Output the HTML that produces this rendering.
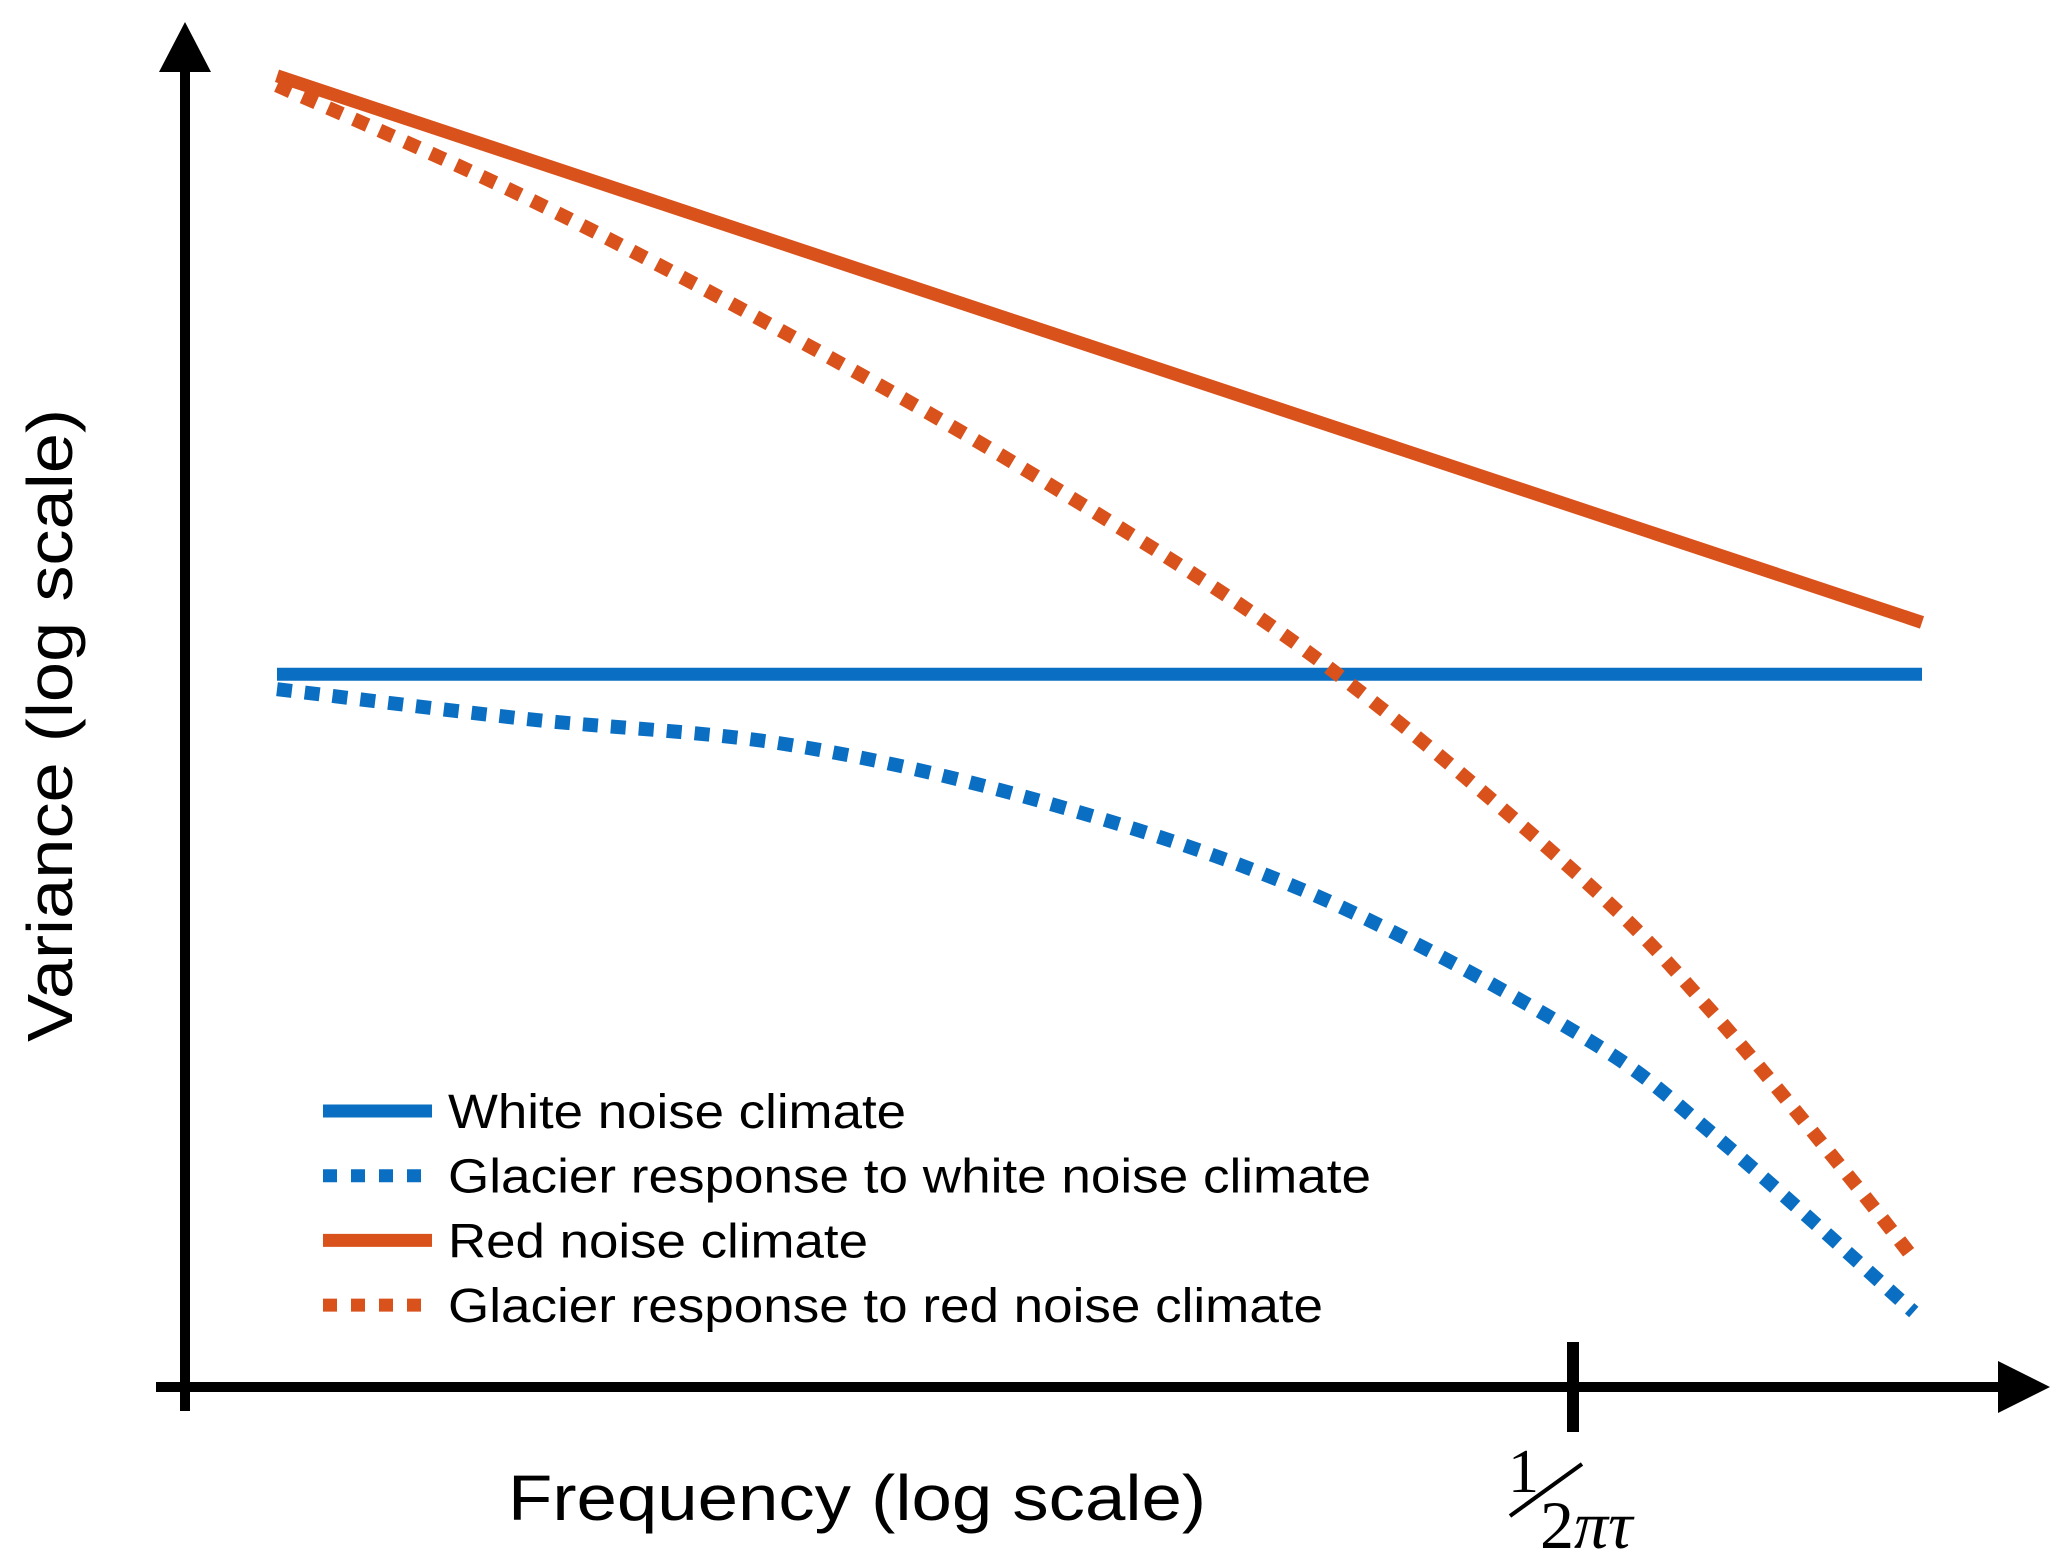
<!DOCTYPE html>
<html><head><meta charset="utf-8"><style>
html,body{margin:0;padding:0;background:#fff;}
svg{display:block;}
text{font-family:"Liberation Sans",sans-serif;fill:#000;}
</style></head><body>
<svg id="chart" width="2067" height="1563" viewBox="0 0 2067 1563" xmlns="http://www.w3.org/2000/svg">
<g id="axes">
<line x1="185" y1="1411" x2="185" y2="60" stroke="#000" stroke-width="10"/>
<polygon points="185,22 159,72 211,72" fill="#000"/>
<line x1="156" y1="1387" x2="2010" y2="1387" stroke="#000" stroke-width="10"/>
<polygon points="2050,1387 1998,1361 1998,1413" fill="#000"/>
<line x1="1573" y1="1342" x2="1573" y2="1432" stroke="#000" stroke-width="12"/>
<text x="508" y="1520" font-size="64" textLength="698" lengthAdjust="spacingAndGlyphs">Frequency (log scale)</text>
<text transform="translate(72,1042) rotate(-90)" font-size="64" textLength="633" lengthAdjust="spacingAndGlyphs">Variance (log scale)</text>
<g>
<text x="1508" y="1492" font-size="62" style="font-family:'Liberation Serif',serif">1</text>
<line x1="1510" y1="1516" x2="1582" y2="1464" stroke="#000" stroke-width="4"/>
<text x="1540" y="1548" font-size="68" style="font-family:'Liberation Serif',serif">2<tspan font-style="italic">πτ</tspan></text>
</g>
</g>
<g id="series"></g>
<g id="legend"></g>
</svg>
<script>
const whiteX = [-3, 1];
const whiteY = [52.3, 52.3];
const redX = [-3, 1];
const redY = [96.2, 56.1];
const glacierWhiteX = [-3, -2.39, -1.75, -1.11, -0.47, 0.17, 0.49, 0.98];
const glacierWhiteY = [51.2, 49.0, 47.1, 42.7, 36.0, 25.8, 18.6, 5.5];
const glacierRedX = [-3, -2.39, -1.75, -1.11, -0.47, 0.17, 0.49, 0.81, 0.98];
const glacierRedY = [95.5, 87.2, 77.1, 66.0, 53.4, 37.4, 27.5, 15.9, 9.4];
const legendLabels = ["White noise climate","Glacier response to white noise climate","Red noise climate","Glacier response to red noise climate"];

const NS = "http://www.w3.org/2000/svg";
const BLUE = "#0a6fc2", RED = "#d9521c";
function xs(x){ return 277 + (x + 3) / 4 * 1645; }
function ys(v){ return 1387 - v * 13.63; }
function pathFrom(X, Y){
  let d = "";
  for (let i = 0; i < X.length; i++) d += (i ? " L" : "M") + xs(X[i]).toFixed(1) + "," + ys(Y[i]).toFixed(1);
  return d;
}
function smoothFrom(X, Y){
  const p = X.map((x,i)=>[xs(x), ys(Y[i])]);
  let d = "M" + p[0][0] + "," + p[0][1];
  for (let i = 0; i < p.length - 1; i++) {
    const p0 = p[i-1] || p[i], p1 = p[i], p2 = p[i+1], p3 = p[i+2] || p2;
    const c1 = [p1[0] + (p2[0]-p0[0])/6, p1[1] + (p2[1]-p0[1])/6];
    const c2 = [p2[0] - (p3[0]-p1[0])/6, p2[1] - (p3[1]-p1[1])/6];
    d += " C" + c1.join(",") + " " + c2.join(",") + " " + p2.join(",");
  }
  return d;
}
const g = document.getElementById("series");
function addLine(d, color, dashed, name){
  const el = document.createElementNS(NS, "path");
  el.setAttribute("d", d);
  el.setAttribute("fill", "none");
  el.setAttribute("stroke", color);
  el.setAttribute("stroke-width", dashed ? 14 : 13);
  if (dashed) el.setAttribute("stroke-dasharray", "15 13");
  
  
  g.appendChild(el);
}
addLine(pathFrom(whiteX, whiteY), BLUE, false, "white-noise-line");
addLine(pathFrom(redX, redY), RED, false, "red-noise-line");
addLine(smoothFrom(glacierWhiteX, glacierWhiteY), BLUE, true, "glacier-white-line");
addLine(smoothFrom(glacierRedX, glacierRedY), RED, true, "glacier-red-line");

const lg = document.getElementById("legend");
const lColors = [BLUE, BLUE, RED, RED];
const lDash = [false, true, false, true];
const lLens = [458, 923, 420, 875];
for (let i = 0; i < legendLabels.length; i++) {
  const y = 1111 + i * 64.7;
  const ln = document.createElementNS(NS, "line");
  ln.setAttribute("x1", 323); ln.setAttribute("x2", 432);
  ln.setAttribute("y1", y); ln.setAttribute("y2", y);
  ln.setAttribute("stroke", lColors[i]);
  ln.setAttribute("stroke-width", 13);
  if (lDash[i]) ln.setAttribute("stroke-dasharray", "14 14");
  
  
  lg.appendChild(ln);
  const t = document.createElementNS(NS, "text");
  t.setAttribute("x", 448); t.setAttribute("y", y + 17);
  t.setAttribute("font-size", 48);
  t.setAttribute("textLength", lLens[i]);
  t.setAttribute("lengthAdjust", "spacingAndGlyphs");
  t.textContent = legendLabels[i];
  
  
  lg.appendChild(t);
}
</script>
</body></html>
